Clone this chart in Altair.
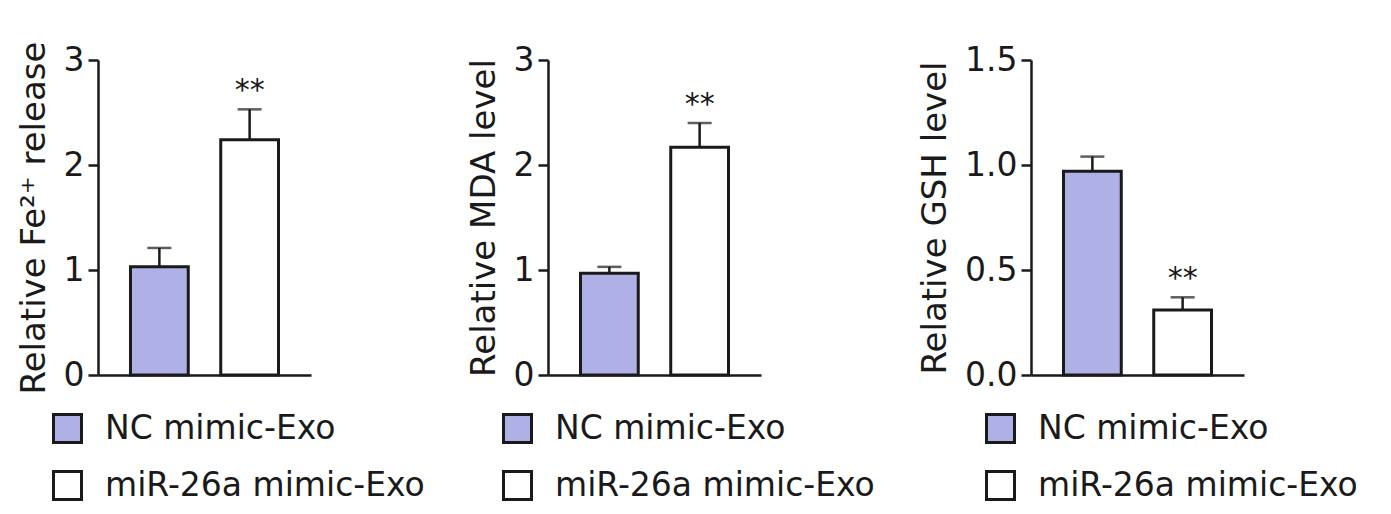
import altair as alt
import pandas as pd

# ---- data ----
groups = ["NC mimic-Exo", "miR-26a mimic-Exo"]
sig = ["", "**"]

fe_mean = [1.03, 2.24]
fe_err = [0.18, 0.29]

mda_mean = [0.97, 2.17]
mda_err = [0.06, 0.23]

gsh_mean = [0.97, 0.31]
gsh_err = [0.07, 0.06]

titles = ["Relative Fe²⁺ release", "Relative MDA level", "Relative GSH level"]
y_max = [3, 3, 1.5]
tick_values = [[0, 1, 2, 3], [0, 1, 2, 3], [0, 0.5, 1.0, 1.5]]
tick_formats = ["d", "d", ".1f"]
fill_colors = ["#aeb0e6", "#ffffff"]

FONT = "DejaVu Sans"
INK = "#1a1a1a"
PW, PH = 213, 315


def panel(means, errs, title, ymax, ticks, fmt):
    df = pd.DataFrame({
        "group": groups,
        "mean": means,
        "upper": [m + e for m, e in zip(means, errs)],
        "sig": sig,
    })
    x = alt.X(
        "group:N", sort=groups,
        scale=alt.Scale(paddingInner=0.36, paddingOuter=0.36),
        axis=alt.Axis(labels=False, ticks=False, title=None,
                      domainWidth=2.5, domainColor=INK),
    )
    ys = alt.Scale(domain=[0, ymax], nice=False)
    base = alt.Chart(df)
    bars = base.mark_bar(stroke=INK, strokeWidth=3).encode(
        x=x,
        y=alt.Y("mean:Q", scale=ys, axis=alt.Axis(
            values=ticks, format=fmt, title=title, grid=False,
            domainWidth=2.5, domainColor=INK, tickWidth=2.5, tickColor=INK,
            tickSize=10, labelFont=FONT, labelFontSize=33, labelColor=INK,
            labelPadding=4, titleFont=FONT, titleFontSize=34,
            titleFontWeight="normal", titleColor=INK, titlePadding=12)),
        fill=alt.Fill("group:N", sort=groups,
                      scale=alt.Scale(domain=groups, range=fill_colors),
                      legend=alt.Legend(
                          orient="none", legendX=-47, legendY=352,
                          direction="vertical", title=None,
                          symbolType="square", symbolSize=784,
                          symbolStrokeColor=INK, symbolStrokeWidth=3,
                          labelFont=FONT, labelFontSize=33, labelColor=INK,
                          labelOffset=21, rowPadding=16, padding=0,
                          labelLimit=600)),
    )
    err = base.mark_rule(color=INK, strokeWidth=2.5).encode(
        x=alt.X("group:N", sort=groups), y="mean:Q", y2="upper:Q")
    cap = base.mark_tick(color=INK, thickness=2.5, size=24).encode(
        x=alt.X("group:N", sort=groups), y="upper:Q")
    stars = base.mark_text(font=FONT, fontSize=30, color=INK,
                           baseline="alphabetic", dy=-9).encode(
        x=alt.X("group:N", sort=groups), y="upper:Q", text="sig:N")
    return alt.layer(bars, err, cap, stars).properties(width=PW, height=PH)


def spacer(w):
    return alt.Chart(pd.DataFrame({"v": [0]})).mark_point(opacity=0).encode(
        x=alt.value(0), y=alt.value(0)).properties(width=w, height=PH)


p1 = panel(fe_mean, fe_err, titles[0], y_max[0], tick_values[0], tick_formats[0])
p2 = panel(mda_mean, mda_err, titles[1], y_max[1], tick_values[1], tick_formats[1])
p3 = panel(gsh_mean, gsh_err, titles[2], y_max[2], tick_values[2], tick_formats[2])

chart = alt.hconcat(p1, spacer(237), p2, spacer(270), p3, spacing=0, bounds="flush").resolve_scale(
    x="independent", y="independent", fill="independent"
).properties(
    padding={"left": 9, "top": 33, "right": 2, "bottom": 2},
    background="white",
).configure_view(strokeWidth=0, stroke="transparent")

chart.save("out.html", embed_options={"renderer": "svg", "actions": False})
